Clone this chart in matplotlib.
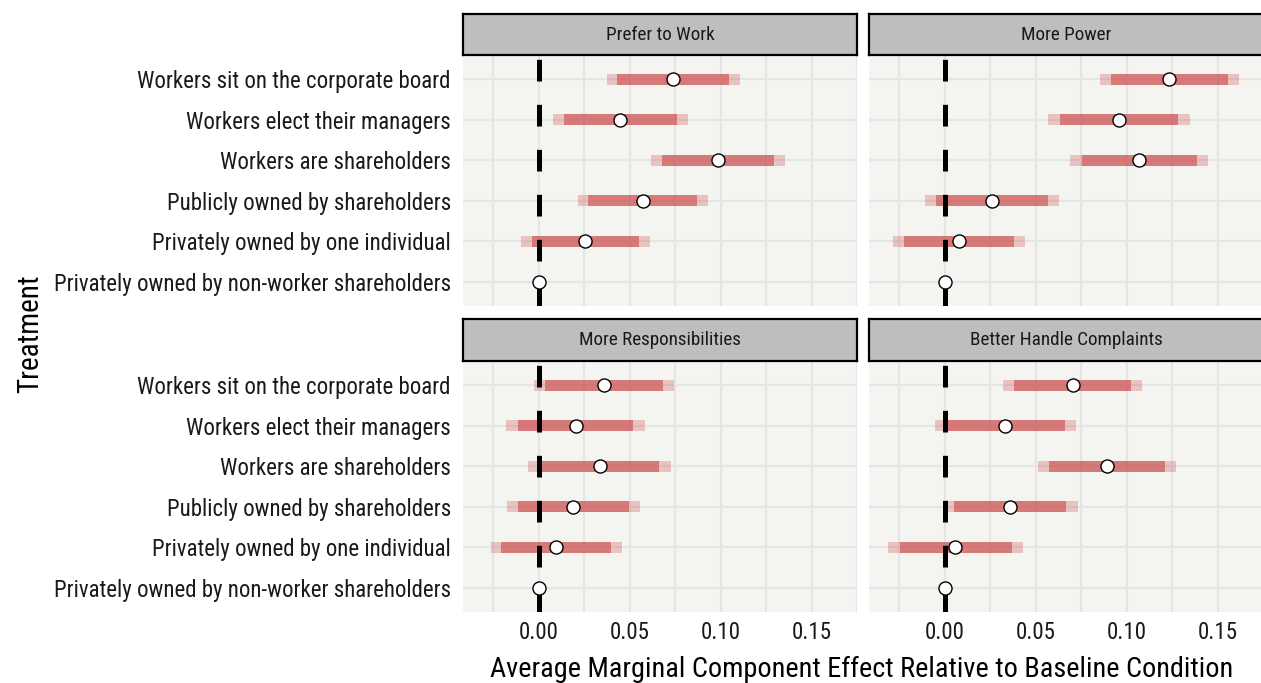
import matplotlib
matplotlib.use('Agg')
import matplotlib.pyplot as plt
from matplotlib import font_manager as fm
import numpy as np

available = {f.name for f in fm.fontManager.ttflist}
fam = [f for f in ['Roboto Condensed', 'Liberation Sans Narrow', 'Roboto', 'DejaVu Sans'] if f in available]
plt.rcParams['font.family'] = fam
plt.rcParams['lines.scale_dashes'] = False

nan = np.nan

# ---------------- data (top row to bottom row) ----------------
treatments = [
    "Workers sit on the corporate board",
    "Workers elect their managers",
    "Workers are shareholders",
    "Publicly owned by shareholders",
    "Privately owned by one individual",
    "Privately owned by non-worker shareholders",
]
panels = ["Prefer to Work", "More Power", "More Responsibilities", "Better Handle Complaints"]

prefer_est = [0.0738, 0.0450, 0.0987, 0.0571, 0.0256, 0.0]
prefer_lo90 = [0.0432, 0.0140, 0.0677, 0.0274, -0.0038, nan]
prefer_hi90 = [0.1045, 0.0758, 0.1292, 0.0870, 0.0553, nan]
prefer_lo95 = [0.0375, 0.0081, 0.0618, 0.0214, -0.0096, nan]
prefer_hi95 = [0.1105, 0.0818, 0.1353, 0.0928, 0.0611, nan]

power_est = [0.1234, 0.0957, 0.1066, 0.0261, 0.0079, 0.0]
power_lo90 = [0.0914, 0.0632, 0.0753, -0.0045, -0.0225, nan]
power_hi90 = [0.1557, 0.1283, 0.1385, 0.0568, 0.0382, nan]
power_lo95 = [0.0852, 0.0569, 0.0690, -0.0105, -0.0283, nan]
power_hi95 = [0.1618, 0.1346, 0.1449, 0.0627, 0.0443, nan]

resp_est = [0.0360, 0.0203, 0.0335, 0.0191, 0.0097, 0.0]
resp_lo90 = [0.0036, -0.0114, 0.0005, -0.0112, -0.0204, nan]
resp_hi90 = [0.0681, 0.0521, 0.0663, 0.0497, 0.0400, nan]
resp_lo95 = [-0.0024, -0.0177, -0.0056, -0.0171, -0.0263, nan]
resp_hi95 = [0.0744, 0.0584, 0.0726, 0.0558, 0.0459, nan]

compl_est = [0.0703, 0.0333, 0.0890, 0.0360, 0.0059, 0.0]
compl_lo90 = [0.0384, 0.0009, 0.0574, 0.0054, -0.0247, nan]
compl_hi90 = [0.1022, 0.0659, 0.1209, 0.0668, 0.0369, nan]
compl_lo95 = [0.0321, -0.0054, 0.0515, -0.0005, -0.0310, nan]
compl_hi95 = [0.1084, 0.0720, 0.1270, 0.0730, 0.0430, nan]

x_ticks = [0.00, 0.05, 0.10, 0.15]
x_tick_labels = ["0.00", "0.05", "0.10", "0.15"]

panel_data = [
    (prefer_est, prefer_lo90, prefer_hi90, prefer_lo95, prefer_hi95),
    (power_est, power_lo90, power_hi90, power_lo95, power_hi95),
    (resp_est, resp_lo90, resp_hi90, resp_lo95, resp_hi95),
    (compl_est, compl_lo90, compl_hi90, compl_lo95, compl_hi95),
]

# ---------------- figure ----------------
W, H = 1261, 683
fig = plt.figure(figsize=(W / 100, H / 100), dpi=100)
fig.patch.set_facecolor('white')

def px_rect(x0, y0, x1, y1):
    return [x0 / W, 1 - y1 / H, (x1 - x0) / W, (y1 - y0) / H]

PANEL_BG = '#f4f4f0'
GRID = '#e5e5e5'
STRIP_BG = '#bebebe'
OUTER_C = '#cc3333'
INNER_C = (201 / 255, 73 / 255, 75 / 255)

col_x = [(463.3, 857.3), (869.3, 1263.3)]
row_y = [((14, 55), (55, 306)), ((319.3, 361), (361, 612.3))]

n = len(treatments)
ypos = np.arange(n)[::-1]  # top row gets highest y

FS = 16.5

for i, title in enumerate(panels):
    r, c = divmod(i, 2)
    (sx0, sx1) = col_x[c]
    (st, sb), (pt, pb) = row_y[r]
    ax = fig.add_axes(px_rect(sx0, pt, sx1, pb))
    ax.set_facecolor(PANEL_BG)
    for s in ax.spines.values():
        s.set_visible(False)
    ax.set_xlim(-0.0413, 0.1717)
    ax.set_ylim(-0.6, n - 1 + 0.6)
    ax.set_xticks(x_ticks)
    ax.set_xticks([-0.025, 0.025, 0.075, 0.125, 0.175], minor=True)
    ax.set_yticks(ypos)
    ax.grid(True, which='major', color=GRID, lw=1.6)
    ax.grid(True, which='minor', axis='x', color=GRID, lw=1.6)
    ax.set_axisbelow(True)
    ax.tick_params(which='both', length=0)
    if c == 0:
        ax.set_yticklabels(treatments, fontsize=FS, color='#1a1a1a')
        ax.tick_params(axis='y', pad=9)
    else:
        ax.set_yticklabels([])
    if r == 1:
        ax.set_xticklabels(x_tick_labels, fontsize=FS, color='#1a1a1a')
        ax.tick_params(axis='x', pad=6)
    else:
        ax.set_xticklabels([])

    est, lo90, hi90, lo95, hi95 = [np.array(a, dtype=float) for a in panel_data[i]]
    bh = 0.27
    ax.barh(ypos, hi95 - lo95, left=lo95, height=bh, color=OUTER_C, alpha=0.25, lw=0, zorder=2)
    ax.barh(ypos, hi90 - lo90, left=lo90, height=bh, color=INNER_C, alpha=0.6, lw=0, zorder=3)
    ax.axvline(0, color='black', lw=3.6, linestyle=(0, (15.6, 16.8)),
               dash_capstyle='butt', zorder=4)
    ax.plot(est, ypos, 'o', ms=9.4, mfc='white', mec='black', mew=1.0, zorder=5, ls='none')

    # strip
    sax = fig.add_axes(px_rect(sx0, st, sx1, sb))
    sax.set_facecolor(STRIP_BG)
    sax.set_xticks([]); sax.set_yticks([])
    for s in sax.spines.values():
        s.set_linewidth(1.6)
        s.set_color('black')
    sax.text(0.5, 0.5, title, ha='center', va='center', fontsize=13.8, color='#1a1a1a',
             transform=sax.transAxes)

fig.text(862 / W, 1 - 677 / H, "Average Marginal Component Effect Relative to Baseline Condition",
         ha='center', va='baseline', fontsize=20.3, color='black')
fig.text(30 / W, 1 - 333.5 / H, "Treatment", ha='center', va='center', rotation=90,
         fontsize=21, color='black')

fig.savefig('out.png', dpi=100, facecolor='white')
